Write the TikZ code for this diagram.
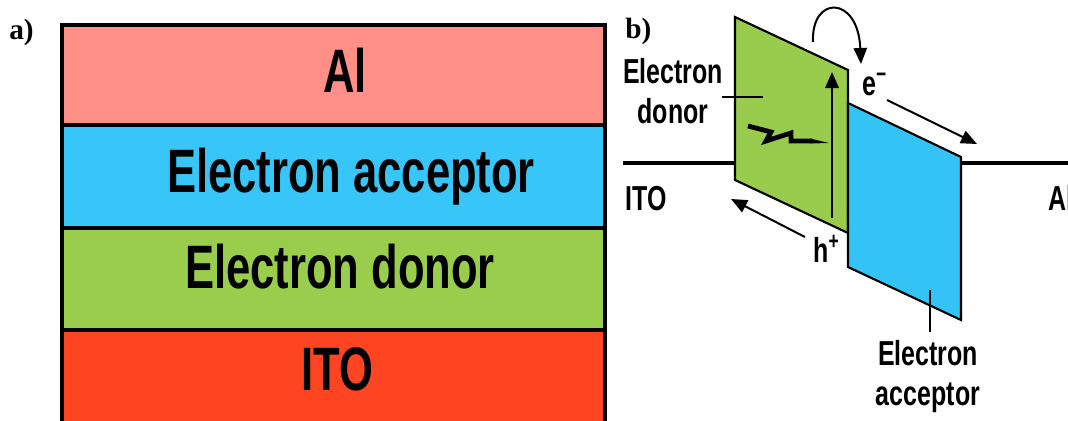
\documentclass[tikz,border=0pt]{standalone}
\usepackage{fontspec}
\newfontfamily\narrow[FakeStretch=0.71]{Liberation Sans Bold}
\newfontfamily\narrowsm[FakeStretch=0.72]{Liberation Sans Bold}
\newfontfamily\tms{Liberation Serif}
\usetikzlibrary{arrows.meta}
\definecolor{alcol}{HTML}{FF8F87}
\definecolor{acccol}{HTML}{38C6F8}
\definecolor{doncol}{HTML}{9ACD4B}
\definecolor{itocol}{HTML}{FF4422}
\definecolor{grn}{HTML}{99CC4C}
\definecolor{blu}{HTML}{33C4F5}
\begin{document}
\begin{tikzpicture}[x=0.75pt,y=-0.75pt,
  bigtxt/.style={font=\narrow\fontsize{46}{50}\selectfont, anchor=base, inner sep=0pt},
  smtxt/.style={font=\narrowsm\fontsize{26}{30}\selectfont, anchor=base, inner sep=0pt},
  panel/.style={font=\tms\bfseries\fontsize{22}{24}\selectfont, anchor=base west, inner sep=0pt},
  layer/.style={line width=3pt, draw=black},
  band/.style={line width=1.6pt, draw=black, line join=miter},
  arr/.style={line width=1.5pt, -{Triangle[length=12pt,width=10pt]}},
  lead/.style={line width=1.5pt}]
\useasboundingbox (0,0) rectangle (1068,421);
\clip (0,0) rectangle (1068,421);
\fill[white] (0,0) rectangle (1068,421);
% panel labels
\node[panel] (la) at (9,40) {a)};
\node[panel] (lb) at (625,38) {b)};
% ---------- left stack
\fill[alcol] (62,25) rectangle (605,125);
\fill[acccol] (62,125) rectangle (605,228);
\fill[doncol] (62,228) rectangle (605,330);
\fill[itocol] (62,330) rectangle (605,440);
\draw[layer] (62,440) -- (62,25) -- (605,25) -- (605,440);
\draw[layer] (62,125) -- (605,125);
\draw[layer] (62,228) -- (605,228);
\draw[layer] (62,330) -- (605,330);
\node[bigtxt] (tal) at (345,92) {Al};
\node[bigtxt] (tacc) at (351,192) {Electron acceptor};
\node[bigtxt] (tdon) at (340,288) {Electron donor};
\node[bigtxt] (tito) at (337,390) {ITO};
% ---------- right band diagram
\coordinate (ito) at (623,163);
\coordinate (gL) at (735,163);
\coordinate (bR) at (961,163);
\coordinate (alend) at (1068,163);
\draw[line width=2.6pt] (ito) -- (gL);
\draw[line width=2.6pt] (bR) -- (alend);
\draw[band, fill=grn] (735,17) -- (848,70) -- (848,233) -- (735,180) -- cycle;
\draw[band, fill=blu] (848,103) -- (961,157) -- (961,320) -- (848,267) -- cycle;
% labels
\node[smtxt] (edon1) at (673,83) {Electron};
\node[smtxt] (edon2) at (673,123) {donor};
\coordinate (ld1) at (722,97);
\coordinate (ld2) at (763,97);
\draw[lead] (ld1) -- (ld2);
\node[smtxt, anchor=base west] (tito2) at (625,210) {ITO};
\node[smtxt, anchor=base west] (tal2) at (1048,210) {Al};
\node[smtxt, anchor=base west] (te) at (862,95) {e\textsuperscript{−}};
\node[smtxt, anchor=base west] (th) at (813,262) {h\textsuperscript{+}};
\node[smtxt] (eacc1) at (928,365) {Electron};
\node[smtxt] (eacc2) at (928,405) {acceptor};
\coordinate (la1) at (930,290);
\coordinate (la2) at (930,332);
\draw[lead] (la1) -- (la2);
% arrows
\coordinate (v1) at (832,218);
\coordinate (v2) at (832,72);
\draw[arr, line width=1.9pt] (v1) -- (v2);
\coordinate (e1) at (887,100);
\coordinate (e2) at (977,144);
\draw[arr] (e1) -- (e2);
\coordinate (h1) at (805,237);
\coordinate (h2) at (731,199);
\draw[arr] (h1) -- (h2);
\coordinate (c1) at (813,42);
\coordinate (c2) at (861,64);
\draw[arr] (c1) .. controls (811,-5) and (858,-5) .. (c2);
% lightning bolt
\draw[line width=3.6pt, line join=miter, miter limit=12] (748,126) -- (771,132) -- (766,141) -- (791,133) -- (791,141) -- (812,141);
\fill (810,138.5) -- (829,143) -- (810,143.5) -- cycle;
\end{tikzpicture}
\end{document}
